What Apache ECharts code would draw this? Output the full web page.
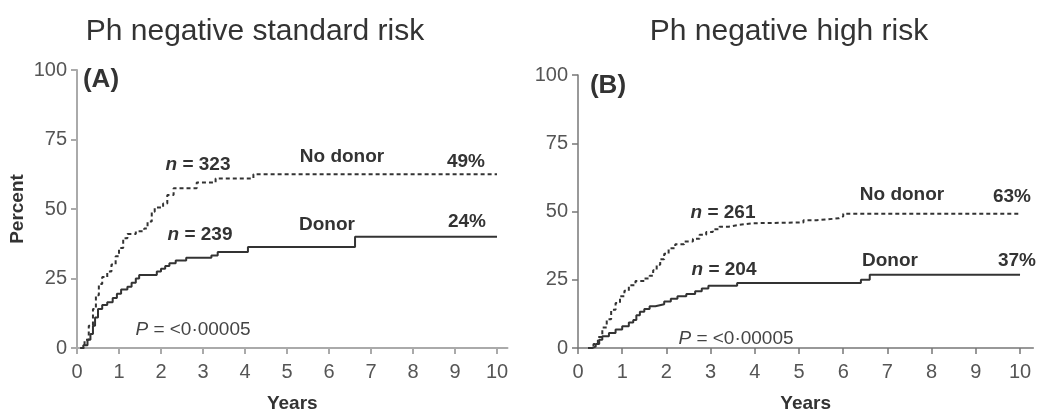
<!DOCTYPE html>
<html><head><meta charset="utf-8">
<script src="https://cdn.jsdelivr.net/npm/echarts@6/dist/echarts.min.js"></script>
<style>html,body{margin:0;padding:0;background:#fff}#c{width:1039px;height:410px}</style>
</head><body><div id="c"></div>
<script>
// Panel A: Ph negative standard risk — [years, percent] step points
const noDonorA = [[0.08,0],[0.18,3],[0.28,8],[0.38,14],[0.45,19],[0.52,23],[0.6,25.5],[0.72,27.5],[0.82,30],[0.92,33],[1.0,36],[1.1,39.5],[1.2,41],[1.4,42],[1.6,43],[1.68,45.5],[1.78,49],[1.85,50.5],[2.05,52],[2.15,55],[2.3,57.5],[2.85,59.5],[3.3,61],[4.2,62.5],[10,62.5]];
const donorA = [[0.08,0],[0.15,1],[0.25,3],[0.32,5],[0.38,8],[0.43,11],[0.5,14],[0.6,15.5],[0.72,16.5],[0.85,18],[0.95,19.5],[1.05,21],[1.2,22],[1.3,23.5],[1.4,25],[1.48,26.3],[1.9,27.5],[2.0,28.5],[2.1,29.5],[2.2,30.5],[2.35,31.5],[2.6,32.5],[3.2,33.3],[3.35,34.5],[4.07,36.3],[6.62,40],[10,40]];
// Panel B: Ph negative high risk
const noDonorB = [[0.23,0],[0.35,1.5],[0.45,4],[0.55,7.5],[0.65,10.5],[0.75,14],[0.85,16.5],[0.95,19],[1.05,21],[1.15,23],[1.3,24.5],[1.5,25.5],[1.62,26.5],[1.7,28.5],[1.78,30.5],[1.86,32.5],[1.95,34.5],[2.05,36.5],[2.2,38],[2.4,39],[2.6,40],[2.75,41.5],[2.9,42.5],[3.05,43.5],[3.2,44.4],[3.4,45],[3.6,45.7],[3.95,46],[5.1,46.8],[5.4,47.5],[5.9,48.2],[6.0,49.2],[10,49.2]];
const donorB = [[0.23,0],[0.32,0.5],[0.4,1.5],[0.48,3],[0.55,4.3],[0.7,5.5],[0.85,6.8],[1.0,8],[1.15,9.3],[1.25,10.3],[1.32,12],[1.4,13.3],[1.5,14.3],[1.62,15.3],[1.75,16],[1.95,17],[2.1,18],[2.25,19],[2.45,19.8],[2.65,20.8],[2.8,21.8],[2.95,22.8],[3.6,23.8],[6.4,25],[6.6,26.8],[10,26.8]];

const xTicks = [0,1,2,3,4,5,6,7,8,9,10];
const yTicks = [0,25,50,75,100];
const titles = ['Ph negative standard risk', 'Ph negative high risk'];
const panelTags = ['(A)', '(B)'];
const nLabels = [['323','239'],['261','204']];
const pctLabels = [['49%','24%'],['63%','37%']];
const pText = '<0·00005';

const FF = '"Liberation Sans", Arial, sans-serif';
const chart = echarts.init(document.getElementById('c'));

function xA(idx, color, width, maxV) {
  return {type: 'value', gridIndex: idx, min: 0, max: maxV, interval: 1,
    name: 'Years', nameLocation: 'middle', nameGap: 46,
    nameTextStyle: {fontWeight: 'bold', fontSize: 19, color: '#333', fontFamily: FF},
    axisLine: {show: true, lineStyle: {color: color, width: width}},
    axisTick: {show: true, length: 6, customValues: xTicks, lineStyle: {color: color, width: width}},
    splitLine: {show: false},
    axisLabel: {color: '#555', fontSize: 20, fontFamily: FF, margin: 14, customValues: xTicks}};
}
function yA(idx, color, width, withName) {
  return {type: 'value', gridIndex: idx, min: 0, max: 100, interval: 25,
    name: withName ? 'Percent' : '', nameLocation: 'middle', nameGap: 50, nameRotate: 90,
    nameTextStyle: {fontWeight: 'bold', fontSize: 19, color: '#333', fontFamily: FF},
    axisLine: {show: true, lineStyle: {color: color, width: width}},
    axisTick: {show: true, length: 6, customValues: yTicks, lineStyle: {color: color, width: width}},
    splitLine: {show: false},
    axisLabel: {color: '#555', fontSize: 20, fontFamily: FF, margin: 10, customValues: yTicks}};
}
function line(data, idx, dashed) {
  return {type: 'line', xAxisIndex: idx, yAxisIndex: idx, data: data, step: 'end',
    symbol: 'none', showSymbol: false, silent: true,
    lineStyle: {color: '#333', width: 2, type: dashed ? [4, 3] : 'solid'}};
}
function txt(x, y, text, opts) {
  return {type: 'text', x: x, y: y, silent: true, style: Object.assign({
    text: text, fill: '#333', font: 'bold 19px ' + FF, align: 'center', verticalAlign: 'middle',
    rich: {i: {fontStyle: 'italic', fontWeight: 'bold', fontSize: 19, fontFamily: FF, fill: '#333'},
           p: {fontStyle: 'italic', fontWeight: 'normal', fontSize: 19, fontFamily: FF, fill: '#444'},
           r: {fontWeight: 'normal', fontSize: 19, fontFamily: FF, fill: '#444'}}
  }, opts || {})};
}

chart.setOption({
  animation: false,
  grid: [
    {left: 77, top: 70, width: 430.5, height: 278, outerBoundsMode: 'none', containLabel: false},
    {left: 578, top: 75, width: 455.3, height: 273, outerBoundsMode: 'none', containLabel: false}
  ],
  xAxis: [xA(0, '#aaa', 2, 10.25), xA(1, '#777', 1.5, 10.3)],
  yAxis: [yA(0, '#aaa', 2, true), yA(1, '#777', 1.5, false)],
  series: [line(noDonorA, 0, true), line(donorA, 0, false), line(noDonorB, 1, true), line(donorB, 1, false)],
  graphic: [
    txt(255, 32, titles[0], {font: '30px ' + FF}),
    txt(789, 32, titles[1], {font: '30px ' + FF}),
    txt(101, 80, panelTags[0], {font: 'bold 26px ' + FF}),
    txt(608, 86, panelTags[1], {font: 'bold 26px ' + FF}),
    txt(198, 165, '{i|n} = ' + nLabels[0][0]),
    txt(200, 235, '{i|n} = ' + nLabels[0][1]),
    txt(342, 157, 'No donor'),
    txt(466, 162, pctLabels[0][0]),
    txt(327, 225, 'Donor'),
    txt(467, 222, pctLabels[0][1]),
    txt(193, 330, '{p|P} {r|= ' + pText + '}'),
    txt(723, 213, '{i|n} = ' + nLabels[1][0]),
    txt(724, 270, '{i|n} = ' + nLabels[1][1]),
    txt(902, 195, 'No donor'),
    txt(1012, 197, pctLabels[1][0]),
    txt(890, 261, 'Donor'),
    txt(1017, 261, pctLabels[1][1]),
    txt(736, 339, '{p|P} {r|= ' + pText + '}')
  ]
});
</script></body></html>
